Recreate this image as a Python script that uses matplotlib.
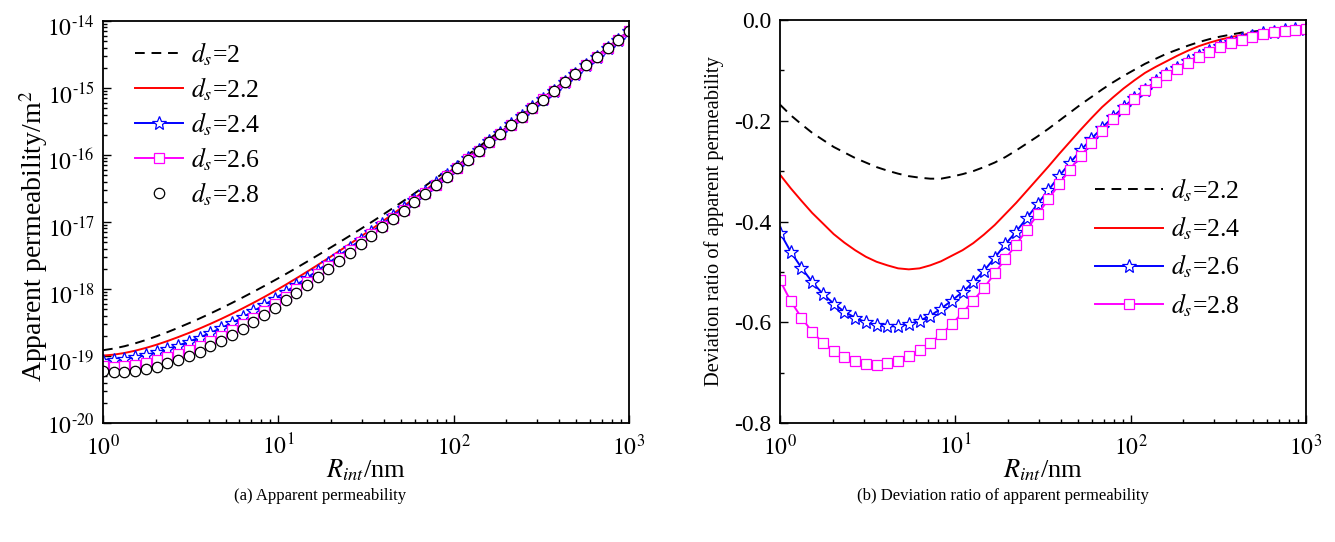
import numpy as np
import matplotlib
matplotlib.use("Agg")
import matplotlib.pyplot as plt
import matplotlib.transforms as mtransforms

plt.rcParams['font.family'] = ['Liberation Serif', 'DejaVu Serif']
plt.rcParams['mathtext.fontset'] = 'stix'
plt.rcParams['axes.unicode_minus'] = False

# R_int grid (nm)
r_int = [1.00, 1.151, 1.326, 1.526, 1.758, 2.024, 2.330, 2.683, 3.089, 3.556,
         4.095, 4.715, 5.429, 6.251, 7.197, 8.286, 9.541, 10.99, 12.65, 14.56,
         16.77, 19.31, 22.23, 25.60, 29.47, 33.93, 39.07, 44.98, 51.79, 59.64,
         68.66, 79.06, 91.03, 104.8, 120.7, 138.9, 160.0, 184.2, 212.1, 244.2,
         281.2, 323.7, 372.8, 429.2, 494.2, 569.0, 655.1, 754.3, 868.5, 1000.0]

# (a) apparent permeability, log10 of value in m^2
log10_k_ds20 = [-18.914, -18.889, -18.854, -18.811, -18.761, -18.705, -18.644, -18.579, -18.511, -18.440,
                -18.366, -18.289, -18.209, -18.127, -18.043, -17.957, -17.869, -17.779, -17.687, -17.593,
                -17.497, -17.401, -17.304, -17.205, -17.105, -17.003, -16.899, -16.793, -16.685, -16.575,
                -16.463, -16.349, -16.233, -16.116, -15.998, -15.879, -15.759, -15.638, -15.516, -15.394,
                -15.271, -15.147, -15.023, -14.898, -14.773, -14.648, -14.523, -14.398, -14.273, -14.148]
log10_k_ds22 = [-18.994, -18.980, -18.955, -18.921, -18.879, -18.831, -18.777, -18.718, -18.656, -18.590,
                -18.520, -18.447, -18.370, -18.290, -18.207, -18.121, -18.031, -17.938, -17.842, -17.743,
                -17.642, -17.539, -17.434, -17.327, -17.219, -17.109, -16.996, -16.881, -16.765, -16.647,
                -16.528, -16.407, -16.284, -16.161, -16.038, -15.914, -15.789, -15.664, -15.539, -15.414,
                -15.288, -15.162, -15.036, -14.909, -14.783, -14.657, -14.532, -14.406, -14.281, -14.155]
log10_k_ds24 = [-19.073, -19.066, -19.047, -19.021, -18.986, -18.945, -18.897, -18.844, -18.787, -18.724,
                -18.656, -18.584, -18.506, -18.422, -18.333, -18.240, -18.143, -18.044, -17.941, -17.834,
                -17.724, -17.612, -17.500, -17.385, -17.269, -17.152, -17.033, -16.913, -16.792, -16.669,
                -16.546, -16.422, -16.297, -16.172, -16.046, -15.921, -15.796, -15.670, -15.543, -15.417,
                -15.291, -15.164, -15.038, -14.911, -14.784, -14.659, -14.533, -14.407, -14.281, -14.155]
log10_k_ds26 = [-19.152, -19.157, -19.148, -19.130, -19.102, -19.065, -19.020, -18.967, -18.909, -18.845,
                -18.773, -18.696, -18.611, -18.522, -18.427, -18.327, -18.223, -18.116, -18.007, -17.892,
                -17.774, -17.657, -17.541, -17.422, -17.302, -17.182, -17.060, -16.938, -16.815, -16.692,
                -16.568, -16.442, -16.316, -16.189, -16.063, -15.936, -15.809, -15.681, -15.553, -15.427,
                -15.299, -15.170, -15.043, -14.914, -14.787, -14.659, -14.533, -14.407, -14.281, -14.155]
log10_k_ds28 = [-19.230, -19.245, -19.240, -19.220, -19.195, -19.160, -19.110, -19.060, -19.000, -18.935,
                -18.855, -18.775, -18.685, -18.590, -18.492, -18.388, -18.278, -18.166, -18.055, -17.940,
                -17.822, -17.703, -17.583, -17.460, -17.334, -17.207, -17.080, -16.955, -16.830, -16.706,
                -16.578, -16.450, -16.322, -16.197, -16.070, -15.940, -15.810, -15.683, -15.557, -15.429,
                -15.300, -15.172, -15.045, -14.915, -14.790, -14.660, -14.535, -14.408, -14.282, -14.155]

# (b) deviation ratio of apparent permeability
dev_ds22 = [-0.168, -0.189, -0.207, -0.224, -0.238, -0.252, -0.263, -0.274, -0.283, -0.292,
            -0.299, -0.305, -0.310, -0.313, -0.315, -0.315, -0.311, -0.306, -0.300, -0.292,
            -0.283, -0.272, -0.259, -0.245, -0.231, -0.216, -0.200, -0.184, -0.168, -0.153,
            -0.138, -0.124, -0.111, -0.099, -0.087, -0.077, -0.067, -0.059, -0.051, -0.044,
            -0.038, -0.033, -0.029, -0.025, -0.023, -0.021, -0.020, -0.019, -0.018, -0.017]
dev_ds24 = [-0.307, -0.334, -0.359, -0.383, -0.404, -0.425, -0.442, -0.457, -0.470, -0.480,
            -0.487, -0.493, -0.495, -0.493, -0.487, -0.479, -0.468, -0.457, -0.443, -0.426,
            -0.407, -0.385, -0.363, -0.339, -0.315, -0.291, -0.266, -0.242, -0.218, -0.195,
            -0.173, -0.154, -0.136, -0.120, -0.105, -0.093, -0.082, -0.071, -0.061, -0.052,
            -0.045, -0.039, -0.034, -0.030, -0.026, -0.024, -0.022, -0.020, -0.019, -0.017]
dev_ds26 = [-0.422, -0.460, -0.492, -0.520, -0.544, -0.563, -0.579, -0.591, -0.600, -0.606,
            -0.608, -0.608, -0.604, -0.597, -0.587, -0.573, -0.557, -0.540, -0.521, -0.498,
            -0.472, -0.445, -0.420, -0.393, -0.365, -0.338, -0.310, -0.284, -0.259, -0.236,
            -0.214, -0.193, -0.173, -0.155, -0.138, -0.122, -0.108, -0.095, -0.082, -0.072,
            -0.062, -0.052, -0.044, -0.037, -0.031, -0.026, -0.023, -0.020, -0.018, -0.017]
dev_ds28 = [-0.517, -0.558, -0.591, -0.619, -0.641, -0.657, -0.669, -0.677, -0.683, -0.684,
            -0.681, -0.676, -0.667, -0.656, -0.641, -0.624, -0.604, -0.581, -0.557, -0.532,
            -0.503, -0.474, -0.446, -0.416, -0.386, -0.356, -0.326, -0.297, -0.270, -0.245,
            -0.220, -0.197, -0.176, -0.157, -0.139, -0.123, -0.110, -0.097, -0.085, -0.073,
            -0.063, -0.054, -0.046, -0.039, -0.033, -0.028, -0.024, -0.021, -0.019, -0.017]

left_labels = [r'$d_s$=2', r'$d_s$=2.2', r'$d_s$=2.4', r'$d_s$=2.6', r'$d_s$=2.8']
right_labels = [r'$d_s$=2.2', r'$d_s$=2.4', r'$d_s$=2.6', r'$d_s$=2.8']
k_exponents = [-20, -19, -18, -17, -16, -15, -14]
r_exponents = [0, 1, 2, 3]
dev_ticks = [0.0, -0.2, -0.4, -0.6, -0.8]
dev_tick_labels = ['0.0', '-0.2', '-0.4', '-0.6', '-0.8']

W, H = 1335, 542
fig = plt.figure(figsize=(W / 100, H / 100), dpi=100)
ax1 = fig.add_axes([103 / W, 119 / H, 526 / W, 402 / H])
ax2 = fig.add_axes([780 / W, 119 / H, 526 / W, 403 / H])

r = np.array(r_int)
lw = 1.4
dash = (0, (5, 3.5))

ax1.plot(r, 10 ** np.array(log10_k_ds20), color='black', lw=lw, ls=dash, label=left_labels[0])
ax1.plot(r, 10 ** np.array(log10_k_ds22), color='red', lw=lw, label=left_labels[1])
ax1.plot(r, 10 ** np.array(log10_k_ds24), color='blue', lw=lw, marker='*', ms=10,
         mfc='white', mec='blue', mew=0.9, label=left_labels[2])
ax1.plot(r, 10 ** np.array(log10_k_ds26), color='magenta', lw=lw, marker='s', ms=7,
         mfc='white', mec='magenta', mew=0.9, label=left_labels[3])
ax1.plot(r, 10 ** np.array(log10_k_ds28), color='black', ls='none', marker='o', ms=7.5,
         mfc='white', mec='black', mew=0.9, label=left_labels[4])
ax1.set_xscale('log')
ax1.set_yscale('log')
ax1.set_xlim(1, 1000)
ax1.set_ylim(1e-20, 1e-14)
ax1.set_yticks([10.0 ** e for e in k_exponents],
               labels=[r'$10^{\text{-}%d}$' % (-e) for e in k_exponents])

ax2.plot(r, dev_ds22, color='black', lw=lw, ls=dash, label=right_labels[0])
ax2.plot(r, dev_ds24, color='red', lw=lw, label=right_labels[1])
ax2.plot(r, dev_ds26, color='blue', lw=lw, marker='*', ms=10,
         mfc='white', mec='blue', mew=0.9, label=right_labels[2])
ax2.plot(r, dev_ds28, color='magenta', lw=lw, marker='s', ms=7,
         mfc='white', mec='magenta', mew=0.9, label=right_labels[3])
ax2.set_xscale('log')
ax2.set_xlim(1, 1000)
ax2.set_ylim(-0.8, 0.0)
ax2.set_yticks(dev_ticks, labels=dev_tick_labels)
ax2.set_yticks([-0.1, -0.3, -0.5, -0.7], minor=True)

for ax in (ax1, ax2):
    ax.set_xticks([10.0 ** e for e in r_exponents],
                  labels=[r'$10^{%d}$' % e for e in r_exponents])
    for s in ax.spines.values():
        s.set_linewidth(1.3)
    ax.tick_params(which='both', direction='in', top=False, right=False, labelsize=17, width=1.0)
    ax.tick_params(which='major', length=6, pad=6)
    ax.tick_params(axis='x', which='major', pad=8)
    ax.tick_params(which='minor', length=3)
    ax.set_xlabel(r'$R_{int}$/nm', fontsize=19, labelpad=-2)

for k, lab in enumerate(ax1.get_yticklabels()):
    dy = -1.0 if k == 0 else -3.5
    off = mtransforms.ScaledTranslation(0, dy / 72, fig.dpi_scale_trans)
    lab.set_transform(lab.get_transform() + off)

ax1.set_ylabel(r'Apparent permeability/m$^2$', fontsize=20)
ax1.yaxis.set_label_coords(-0.100, 0.465)
ax2.set_ylabel('Deviation ratio of apparent permeability', fontsize=14.8)
ax2.yaxis.set_label_coords(-0.106, 0.5)

ax1.legend(loc='upper left', bbox_to_anchor=(0.017, 1.01), frameon=False, fontsize=18.5,
           handlelength=1.87, labelspacing=0.29, handletextpad=0.3, borderpad=0.4)
ax2.legend(loc='upper left', bbox_to_anchor=(0.555, 0.67), frameon=False, fontsize=18.5,
           handlelength=2.65, labelspacing=0.42, handletextpad=0.3, borderpad=0.4)

fig.text(320 / W, 1 - 496 / H, '(a) Apparent permeability', ha='center', va='center', fontsize=12)
fig.text(1003 / W, 1 - 496 / H, '(b) Deviation ratio of apparent permeability', ha='center',
         va='center', fontsize=12)

fig.savefig('out.png', dpi=100)
